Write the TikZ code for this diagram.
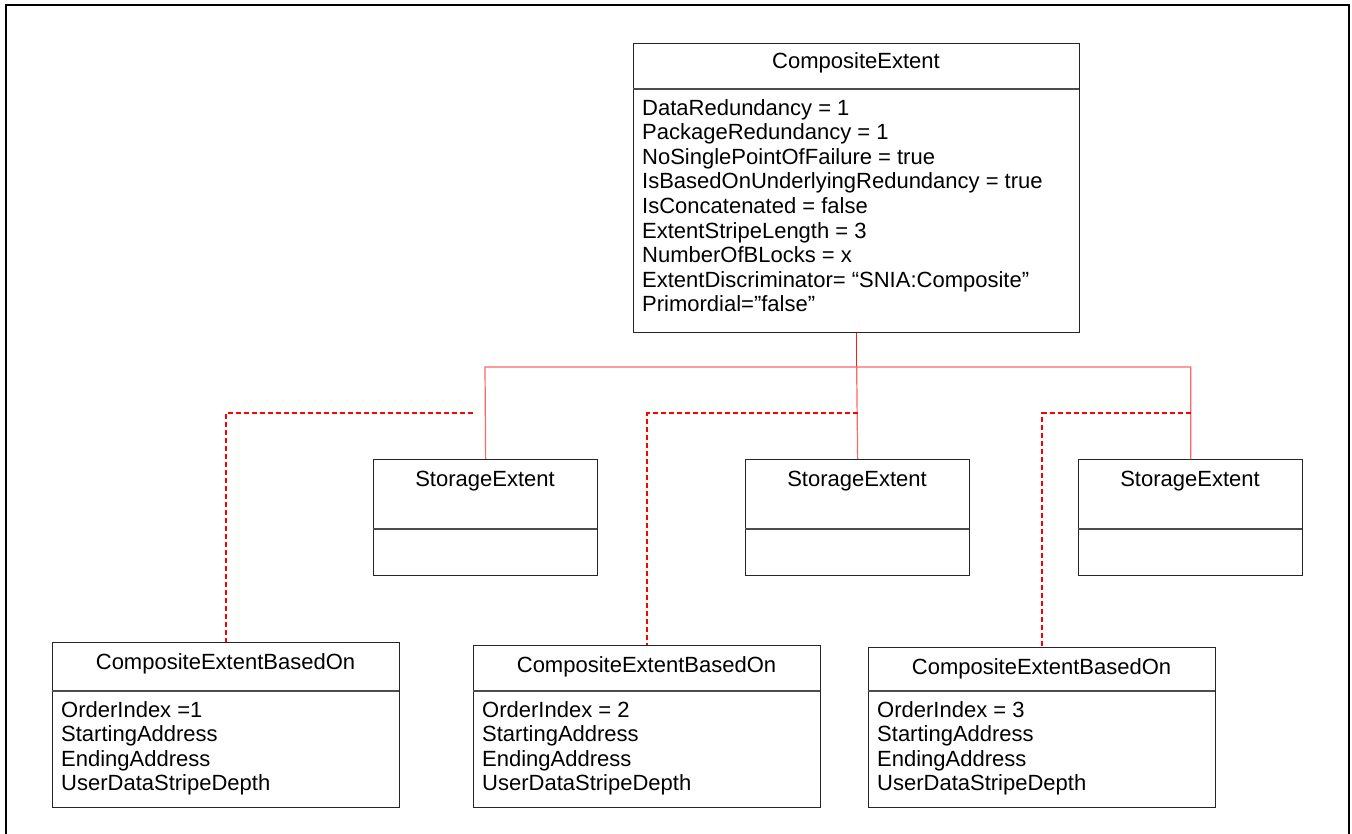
\documentclass[tikz,border=0pt]{standalone}
\usepackage{fontspec}
\setmainfont{Liberation Sans}
\usepackage{tikz}
\usetikzlibrary{positioning}

\begin{document}
\begin{tikzpicture}[
  x=1pt, y=-1pt,
  clsbox/.style={draw=black!85, line width=1.3pt, anchor=north west, inner sep=0pt},
  sep/.style={draw=black!70, line width=1.3pt},
  title/.style={anchor=base, inner sep=0pt, font=\fontsize{22}{24.6}\selectfont},
  attrs/.style={anchor=north west, inner sep=0pt, align=left, font=\fontsize{22}{24.6}\selectfont},
  tree/.style={draw=red!60, line width=1.2pt},
  trunk/.style={draw=red!90, line width=1.6pt},
  based/.style={draw=red, line width=1.6pt, dash pattern=on 5pt off 3pt},
]
\useasboundingbox (0,0) rectangle (1352,834);
\draw[line width=2.4pt] (1349,850) -- (1349,5) -- (6,5) -- (6,850);

% top class
\node[clsbox, minimum width=446pt, minimum height=289pt] (ce) at (633,43) {};
\draw[sep] (633,89) -- (1079,89);
\node[title] (cetitle) at (856,69) {CompositeExtent};
\node[attrs] (ceattr) at (642,99) {DataRedundancy = 1\\PackageRedundancy = 1\\NoSinglePointOfFailure = true\\IsBasedOnUnderlyingRedundancy = true\\IsConcatenated = false\\ExtentStripeLength = 3\\NumberOfBLocks = x\\ExtentDiscriminator= “SNIA:Composite”\\Primordial=”false”};

% storage extents
\foreach \n/\x in {1/373, 2/745, 3/1078} {
  \node[clsbox, minimum width=224pt, minimum height=116pt] (se\n) at (\x,459) {};
  \draw[sep] (\x,529) -- ++(224,0);
  \node[title] (se\n title) at (\x+112,486) {StorageExtent};
}

% based-on classes
\foreach \n/\x/\y/\idx in {1/52/642/=1, 2/473/645/= 2, 3/868/647/= 3} {
  \node[clsbox, minimum width=347pt, minimum height=807pt-\y pt] (cb\n) at (\x,\y) {};
  \draw[sep] (\x,691) -- ++(347,0);
  \node[title] (cb\n title) at (\x+173.5,\y+27) {CompositeExtentBasedOn};
  \node[attrs] (cb\n attr) at (\x+9,701) {OrderIndex \idx\\StartingAddress\\EndingAddress\\UserDataStripeDepth};
}

% connectors
\coordinate (bus) at (485,367);
\coordinate (d1) at (473,413);
\draw[trunk] (ce.south) -- (ce.south |- bus);
\draw[tree] (se1.north) -- (bus) -| (se3.north);
\draw[tree] (ce.south |- bus) -- (se2.north);
\draw[based] (d1) -| (cb1.north);
\draw[based] (se2.north |- d1) -| (cb2.north);
\draw[based] (se3.north |- d1) -| (cb3.north);
\end{tikzpicture}
\end{document}
